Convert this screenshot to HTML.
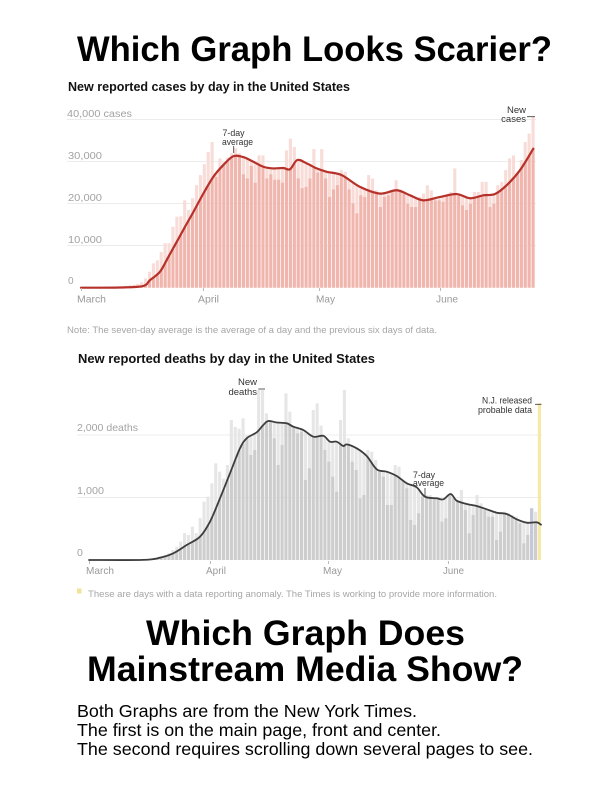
<!DOCTYPE html>
<html><head><meta charset="utf-8">
<style>
html,body{margin:0;padding:0;background:#fff;}
svg{display:block;}
text{font-family:"Liberation Sans",Arial,sans-serif;}
</style></head>
<body>
<svg id="s" width="612" height="792" viewBox="0 0 612 792" xmlns="http://www.w3.org/2000/svg">
<rect width="612" height="792" fill="#fff"/>
<text x="77" y="61" font-size="35.5" font-weight="bold" fill="#000" textLength="475" lengthAdjust="spacingAndGlyphs">Which Graph Looks Scarier?</text>

<!-- TOP CHART -->
<text x="68" y="91" font-size="12.5" font-weight="bold" fill="#121212" textLength="282" lengthAdjust="spacingAndGlyphs">New reported cases by day in the United States</text>
<g stroke="#ececec" stroke-width="1">
<line x1="67" y1="119.5" x2="536" y2="119.5"/>
<line x1="67" y1="161.5" x2="536" y2="161.5"/>
<line x1="67" y1="203.5" x2="536" y2="203.5"/>
<line x1="67" y1="245.5" x2="536" y2="245.5"/>
</g>
<g font-size="10" fill="#a3a3a3">
<text x="67" y="117" textLength="65" lengthAdjust="spacingAndGlyphs">40,000 cases</text>
<text x="68" y="159" textLength="34" lengthAdjust="spacingAndGlyphs">30,000</text>
<text x="68" y="201" textLength="34" lengthAdjust="spacingAndGlyphs">20,000</text>
<text x="68" y="243" textLength="34" lengthAdjust="spacingAndGlyphs">10,000</text>
<text x="68" y="284">0</text>
</g>
<g id="topbars"></g>
<g stroke="#bbb" stroke-width="1">
<line x1="81.5" y1="288" x2="81.5" y2="291"/>
<line x1="203.5" y1="288" x2="203.5" y2="291"/>
<line x1="319.5" y1="288" x2="319.5" y2="291"/>
<line x1="440.5" y1="288" x2="440.5" y2="291"/>
</g>
<g font-size="10.5" fill="#999">
<text x="77" y="302.5" textLength="29" lengthAdjust="spacingAndGlyphs">March</text>
<text x="198" y="302.5" textLength="21" lengthAdjust="spacingAndGlyphs">April</text>
<text x="316" y="302.5" textLength="19" lengthAdjust="spacingAndGlyphs">May</text>
<text x="436" y="302.5" textLength="22" lengthAdjust="spacingAndGlyphs">June</text>
</g>
<g font-size="9.5" fill="#333">
<text x="222.5" y="136" textLength="22" lengthAdjust="spacingAndGlyphs">7-day</text>
<text x="222" y="145" textLength="31" lengthAdjust="spacingAndGlyphs">average</text>
<text x="526" y="113" text-anchor="end">New</text>
<text x="526" y="122" text-anchor="end">cases</text>
</g>
<line x1="233.7" y1="146" x2="233.7" y2="153" stroke="#333" stroke-width="0.8"/>
<line x1="527" y1="116.7" x2="535" y2="116.7" stroke="#333" stroke-width="0.8"/>
<text x="67" y="333" font-size="9.5" fill="#a6a6a6" textLength="370" lengthAdjust="spacingAndGlyphs">Note: The seven-day average is the average of a day and the previous six days of data.</text>

<!-- BOTTOM CHART -->
<text x="78" y="363" font-size="12.5" font-weight="bold" fill="#121212" textLength="297" lengthAdjust="spacingAndGlyphs">New reported deaths by day in the United States</text>
<g stroke="#ececec" stroke-width="1">
<line x1="77" y1="435" x2="542" y2="435"/>
<line x1="77" y1="497.5" x2="542" y2="497.5"/>
</g>
<g font-size="10.5" fill="#a3a3a3">
<text x="77" y="431" textLength="61" lengthAdjust="spacingAndGlyphs">2,000 deaths</text>
<text x="77" y="494" textLength="27" lengthAdjust="spacingAndGlyphs">1,000</text>
<text x="77" y="556">0</text>
</g>
<g id="botbars"></g>
<g stroke="#bbb" stroke-width="1">
<line x1="89.5" y1="561" x2="89.5" y2="564"/>
<line x1="210.5" y1="561" x2="210.5" y2="564"/>
<line x1="328.5" y1="561" x2="328.5" y2="564"/>
<line x1="448.5" y1="561" x2="448.5" y2="564"/>
</g>
<g font-size="10.5" fill="#999">
<text x="86" y="574" textLength="28" lengthAdjust="spacingAndGlyphs">March</text>
<text x="206" y="574" textLength="20" lengthAdjust="spacingAndGlyphs">April</text>
<text x="323" y="574" textLength="19" lengthAdjust="spacingAndGlyphs">May</text>
<text x="443" y="574" textLength="21" lengthAdjust="spacingAndGlyphs">June</text>
</g>
<g font-size="9.5" fill="#333">
<text x="257" y="385" text-anchor="end">New</text>
<text x="257" y="395" text-anchor="end">deaths</text>
<text x="413" y="478" textLength="22" lengthAdjust="spacingAndGlyphs">7-day</text>
<text x="413" y="486" textLength="31" lengthAdjust="spacingAndGlyphs">average</text>
<text x="532" y="403.5" text-anchor="end" textLength="50" lengthAdjust="spacingAndGlyphs">N.J. released</text>
<text x="532" y="413" text-anchor="end" textLength="54" lengthAdjust="spacingAndGlyphs">probable data</text>
</g>
<line x1="258.3" y1="389" x2="265" y2="389" stroke="#333" stroke-width="0.8"/>
<line x1="425" y1="488" x2="425" y2="496" stroke="#333" stroke-width="0.8"/>
<line x1="535" y1="404.3" x2="541.5" y2="404.3" stroke="#333" stroke-width="0.8"/>
<rect x="77" y="588.5" width="4.5" height="5" fill="#efe39a"/>
<text x="88" y="597" font-size="9.5" fill="#a6a6a6" textLength="409" lengthAdjust="spacingAndGlyphs">These are days with a data reporting anomaly. The Times is working to provide more information.</text>

<!-- BOTTOM TEXT -->
<text x="305.5" y="645" font-size="35.5" font-weight="bold" fill="#000" text-anchor="middle" textLength="319" lengthAdjust="spacingAndGlyphs">Which Graph Does</text>
<text x="305" y="681" font-size="35.5" font-weight="bold" fill="#000" text-anchor="middle" textLength="436" lengthAdjust="spacingAndGlyphs">Mainstream Media Show?</text>
<g font-size="17.7" fill="#000">
<text x="77" y="717" textLength="340" lengthAdjust="spacingAndGlyphs">Both Graphs are from the New York Times.</text>
<text x="77" y="736" textLength="364" lengthAdjust="spacingAndGlyphs">The first is on the main page, front and center.</text>
<text x="77" y="755" textLength="456" lengthAdjust="spacingAndGlyphs">The second requires scrolling down several pages to see.</text>
</g>
</svg>
<script>
(function(){
var NS="http://www.w3.org/2000/svg";
function mk(tag,attrs,parent){var e=document.createElementNS(NS,tag);for(var k in attrs)e.setAttribute(k,attrs[k]);parent.appendChild(e);return e;}
function smooth(p){var d="M"+p[0][0].toFixed(2)+","+p[0][1].toFixed(2);
 for(var i=0;i<p.length-1;i++){var p0=p[i-1]||p[i],p1=p[i],p2=p[i+1],p3=p[i+2]||p2;
  var c1x=p1[0]+(p2[0]-p0[0])/6,c1y=p1[1]+(p2[1]-p0[1])/6,c2x=p2[0]-(p3[0]-p1[0])/6,c2y=p2[1]-(p3[1]-p1[1])/6;
  d+=" C"+c1x.toFixed(2)+","+c1y.toFixed(2)+" "+c2x.toFixed(2)+","+c2y.toFixed(2)+" "+p2[0].toFixed(2)+","+p2[1].toFixed(2);}
 return d;}
function chart(c){
 var g=document.getElementById(c.id);
 var pts=c.line.map(function(a){return [a[0],c.base-a[1]*c.scale];});
 function avgY(x){if(x<=pts[0][0])return pts[0][1];
  for(var i=0;i<pts.length-1;i++){if(x>=pts[i][0]&&x<=pts[i+1][0]){var t=(x-pts[i][0])/(pts[i+1][0]-pts[i][0]);return pts[i][1]+t*(pts[i+1][1]-pts[i][1]);}}
  return pts[pts.length-1][1];}
 c.data.forEach(function(v,i){
  var x=c.x0+i*c.step+c.gap/2,w=c.step-c.gap,cx=x+w/2;
  var yb=c.base-v*c.scale,ya=avgY(cx);
  var top=Math.min(yb,ya),bot=Math.max(yb,ya);
  var light=c.light,dark=c.dark;
  if(c.special&&c.special[i]){dark=c.special[i];light=c.special[i];top=yb;bot=yb;}
  mk("rect",{x:x.toFixed(2),y:top.toFixed(2),width:w.toFixed(2),height:(c.base-top).toFixed(2),fill:light},g);
  mk("rect",{x:x.toFixed(2),y:bot.toFixed(2),width:w.toFixed(2),height:(c.base-bot).toFixed(2),fill:dark},g);
 });
 mk("path",{d:smooth(pts),fill:"none",stroke:c.lineColor,"stroke-width":c.lw,"stroke-linejoin":"round","stroke-linecap":"round"},g);
}
var cases=[0.01,0.02,0.02,0.03,0.05,0.06,0.1,0.1,0.12,0.25,0.35,0.45,0.6,0.7,0.9,1.3,
2.2,3.8,5.8,6.5,8.5,10.6,10.6,14.5,16.9,17,20.8,18.5,21.3,24.4,26.8,29.4,
32.3,34.7,26.4,30.8,30,31,32,33.2,32,27,26,29,25,
31.5,31.5,26,27,25.7,25.7,25,32.7,35.5,33.5,26,23.7,24,26,33,27.4,
33,26,21.6,23.4,24.4,28,27.6,23.4,20.1,17.7,22,21.6,26.8,26,23.2,19.2,21.6,22,23.2,25.6,23.4,22.4,20,19.2,19.2,21.6,22.4,24.4,23.2,20.8,20.8,20.4,22,22.8,28.4,22.4,19.6,18.5,20,22.8,22.8,25.2,25.2,19.2,20,24.4,25.2,28,30.8,31.5,27.2,30.4,34.7,36.7,40.7];
var caseLine=[[81,0],[120,0.05],[143,0.4],[150,1.8],[160,3.8],[168.3,7.3],[176.7,10.9],[185,14.5],[193.3,18],[203.3,22.4],[213.3,26.4],[223.3,29.2],[233.3,31.3],[243.3,31.1],[253.3,30],[263.3,28.8],[273.3,28.4],[283.3,28.5],[290,28.2],[297.3,30.4],[306.7,29.6],[316.7,28.4],[326.7,27.6],[341.7,26.8],[360,24],[380,22.4],[396.7,23.2],[410,22],[423.3,20.8],[440,21.6],[456.7,22.3],[470,21.3],[483.3,22],[495,22.3],[506.7,24.4],[520,28],[533.3,33.1]];
chart({id:"topbars",data:cases,x0:81,step:3.914,gap:0.8,base:287.7,scale:4.2,line:caseLine,light:"#f8dcd8",dark:"#f0b5ad",lineColor:"#b5312a",lw:2.2});
var deaths=[0,0,0,0,0,1,1,2,3,4,5,6,8,10,
12,18,25,35,50,80,110,160,
213,293,430,400,533,430,670,933,1013,1227,1547,1413,1300,1520,
2240,2130,2100,2267,2000,1680,1760,2720,2720,2347,2213,1947,1520,1840,2667,2373,2133,2027,2053,1280,1467,2400,2507,
2150,1760,1573,1333,1093,2240,2720,1947,1573,1440,987,1040,1760,1733,1600,1440,1333,880,880,1520,1493,1280,1147,640,560,747,1013,1040,1040,987,960,613,667,1040,987,933,1120,800,427,720,1040,907,800,693,693,320,453,773,747,720,693,587,267,400,827,773,2507];
var deathLine=[[89,0],[143,2],[160,37],[173.3,107],[186.7,240],[200,373],[210,613],[220,987],[230,1387],[240,1787],[246.7,1947],[256.7,2043],[263.3,2160],[268.3,2224],[276.7,2200],[286.7,2187],[293.3,2133],[303.3,2080],[313.3,1973],[323.3,1987],[330,1893],[336.7,1893],[343.3,1824],[346.7,1850],[356.7,1787],[366.7,1664],[376.7,1451],[386.7,1413],[396.7,1344],[406.7,1227],[416.7,1163],[425,1013],[436.7,987],[443.3,971],[450.7,1056],[456.7,949],[466.7,896],[476.7,864],[486.7,811],[496.7,757],[506.7,736],[516.7,651],[526.7,597],[536.7,603],[541,565]].map(function(a){return [a[0],a[1]/1000];});
chart({id:"botbars",data:deaths.map(function(v){return v/1000;}),x0:89,step:3.9,gap:0.8,base:560,scale:62.5,line:deathLine,light:"#e6e6e6",dark:"#cdcdcd",lineColor:"#3d3d3d",lw:1.8,special:{113:"#c6c8d8",115:"#f6e9a6"}});
})();
</script>
</body></html>
